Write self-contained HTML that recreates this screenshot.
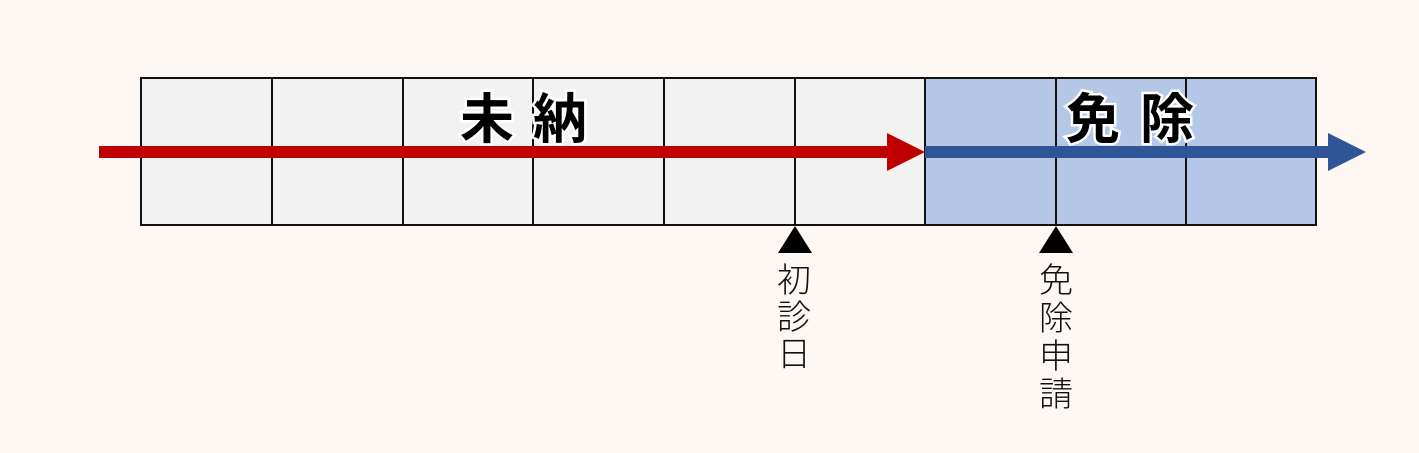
<!DOCTYPE html>
<html><head><meta charset="utf-8"><style>
html,body{margin:0;padding:0;background:#fdf8f4;}
svg{display:block}
text{font-family:"Liberation Sans","Noto Sans CJK JP",sans-serif;}
</style></head><body>
<svg width="1419" height="453" viewBox="0 0 1419 453" xmlns="http://www.w3.org/2000/svg">
<rect x="0" y="0" width="1419" height="453" fill="#fdf8f4"/>
<rect x="141" y="78" width="784" height="147" fill="#f2f2f2"/>
<rect x="925" y="78" width="391" height="147" fill="#b4c7e7"/>
<g stroke="#111" stroke-width="2" fill="none">
<rect x="141" y="78" width="1175" height="147"/>
<line x1="272" y1="78" x2="272" y2="225"/>
<line x1="403" y1="78" x2="403" y2="225"/>
<line x1="533" y1="78" x2="533" y2="225"/>
<line x1="664" y1="78" x2="664" y2="225"/>
<line x1="795" y1="78" x2="795" y2="225"/>
<line x1="925" y1="78" x2="925" y2="225"/>
<line x1="1056" y1="78" x2="1056" y2="225"/>
<line x1="1186" y1="78" x2="1186" y2="225"/>
</g>
<g font-size="54" font-weight="bold" text-anchor="middle" fill="#000" stroke="#fff" stroke-width="5" paint-order="stroke">
<text x="487" y="138">未</text>
<text x="560" y="138">納</text>
<text x="1093" y="138">免</text>
<text x="1167" y="138">除</text>
</g>
<rect x="99" y="146" width="790" height="12" fill="#c00000"/>
<polygon points="887,133 925,152 887,171" fill="#c00000"/>
<rect x="925" y="146" width="405" height="12" fill="#2f5597"/>
<polygon points="1328,133 1366,152 1328,171" fill="#2f5597"/>
<polygon points="795,226 812,253 778,253" fill="#000"/>
<polygon points="1056,226 1073,253 1039,253" fill="#000"/>
<g font-size="34" fill="#111" text-anchor="middle" font-weight="300">
<text x="794" y="292">初</text>
<text x="794" y="329">診</text>
<text x="794" y="366">日</text>
<text x="1056" y="292">免</text>
<text x="1056" y="330">除</text>
<text x="1056" y="368">申</text>
<text x="1056" y="406">請</text>
</g>
</svg>
</body></html>
